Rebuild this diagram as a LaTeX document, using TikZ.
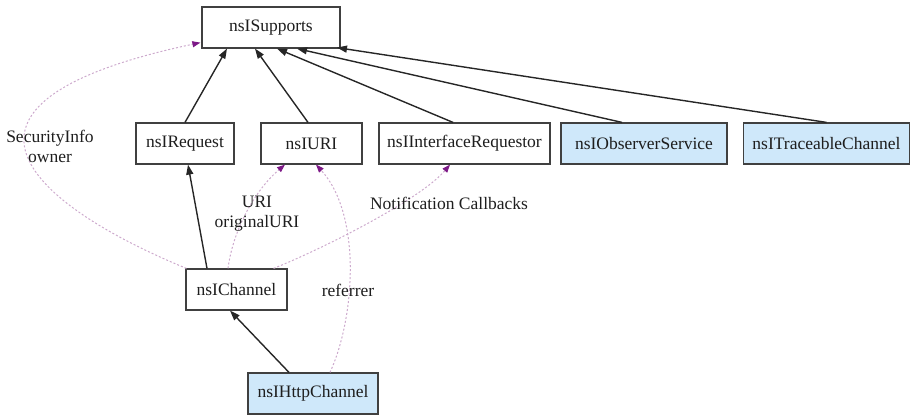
\documentclass[tikz,border=0pt]{standalone}
\usepackage{fontspec}
\setmainfont{Liberation Serif}
\usetikzlibrary{arrows.meta,calc}
\definecolor{boxblue}{RGB}{207,232,250}
\definecolor{boxedge}{RGB}{64,64,64}
\definecolor{dashline}{RGB}{205,170,205}
\definecolor{tippurple}{RGB}{125,25,135}
\definecolor{txt}{RGB}{30,30,30}
\tikzset{
  cls/.style={draw=boxedge, line width=1.2pt, fill=white, minimum height=41pt, inner sep=0pt,
    text=txt, font=\fontsize{17.5}{20}\selectfont},
  ext/.style={cls, fill=boxblue},
  inh/.style={draw=black!85, line width=1.4pt, -{Triangle[length=10pt,width=7pt]}},
  use/.style={draw=dashline, line width=1pt, dash pattern=on 2pt off 2pt,
    -{Triangle[length=8pt,width=6pt,color=tippurple]}},
  lbl/.style={text=txt, align=center, inner sep=0pt, font=\fontsize{17.5}{20}\selectfont}
}
\begin{document}
\begin{tikzpicture}[x=1pt,y=-1pt]
\useasboundingbox (0,0) rectangle (911,416);
\node[cls, minimum width=138pt] (sup) at (271,27.5) {nsISupports};
\node[cls, minimum width=98pt] (req) at (185,143.5) {nsIRequest};
\node[cls, minimum width=101pt] (uri) at (311.5,143.5) {nsIURI};
\node[cls, minimum width=171pt] (ifr) at (464.5,143.5) {nsIInterfaceRequestor};
\node[ext, minimum width=166pt] (obs) at (644,143.5) {nsIObserverService};
\node[ext, minimum width=166pt] (trc) at (826.5,143.5) {nsITraceableChannel};
\node[cls, minimum width=101pt] (chn) at (236.5,289.5) {nsIChannel};
\node[ext, minimum width=130pt] (http) at (313,393.5) {nsIHttpChannel};

% inheritance
\draw[inh] (req.north) -- ($(sup.south)+(-44,0)$);
\draw[inh] ($(uri.north)+(-3.5,0)$) -- ($(sup.south)+(-16,0)$);
\draw[inh] ($(ifr.north)+(-11.5,0)$) -- ($(sup.south)+(6,0)$);
\draw[inh] ($(obs.north)+(-22,0)$) -- ($(sup.south)+(26,0)$);
\draw[inh] (trc.north) -- ($(sup.south)+(66,-1)$);
\draw[inh] ($(chn.north)+(-29.5,0)$) -- ($(req.south)+(3,0)$);
\draw[inh] ($(http.north)+(-24,0)$) -- ($(chn.south)+(-6.5,0)$);

% usage
\draw[use] ($(chn.north west)+(1,0)$) .. controls (35,206) and (-90,104) .. ($(sup.south west)+(-1,-6)$);
\draw[use] ($(chn.north)+(-8.5,0)$) .. controls (233,230) and (255,190) .. ($(uri.south)+(-26.5,0)$);
\draw[use] ($(chn.north east)+(-14,0)$) .. controls (320,250) and (420,200) .. ($(ifr.south)+(-14.5,0)$);
\draw[use] ($(http.north)+(17,0)$) .. controls (355,318) and (362,215) .. ($(uri.south)+(4.5,0)$);

\node[lbl] (l1) at (50,146) {SecurityInfo\\owner};
\node[lbl] (l2) at (257,214) {URI\\originalURI};
\node[lbl] (l3) at (449,203) {Notification Callbacks};
\node[lbl] (l4) at (348,290) {referrer};
\end{tikzpicture}
\end{document}
